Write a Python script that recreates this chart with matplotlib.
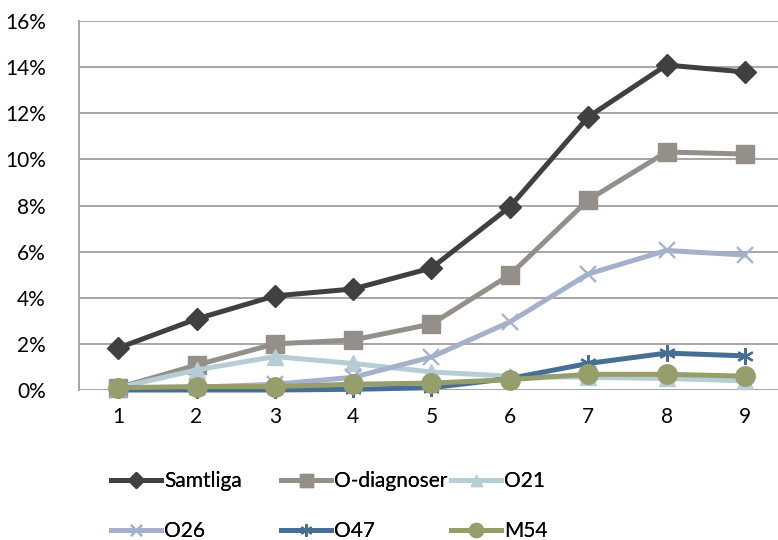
import matplotlib.pyplot as plt
from matplotlib.ticker import PercentFormatter

# data (procent per år/steg)
x = [1, 2, 3, 4, 5, 6, 7, 8, 9]
samtliga = [1.82, 3.08, 4.08, 4.38, 5.29, 7.94, 11.84, 14.09, 13.79]
o_diagnoser = [0.10, 1.08, 2.00, 2.17, 2.86, 4.99, 8.24, 10.32, 10.23]
o21 = [0.10, 0.87, 1.45, 1.15, 0.78, 0.60, 0.55, 0.50, 0.40]
o26 = [0.00, 0.12, 0.25, 0.55, 1.43, 2.95, 5.03, 6.05, 5.85]
o47 = [0.00, 0.00, 0.00, 0.03, 0.10, 0.50, 1.15, 1.60, 1.48]
m54 = [0.10, 0.15, 0.15, 0.25, 0.30, 0.45, 0.68, 0.68, 0.60]

plt.rcParams['font.family'] = ['Lato', 'DejaVu Sans']

fig = plt.figure(figsize=(7.78, 5.4), dpi=100)
ax = fig.add_axes([79 / 778, 1 - 390 / 540, 705 / 778, 369 / 540])

serier = [
    ("Samtliga", samtliga, "#404040", "D", 11, {}),
    ("O-diagnoser", o_diagnoser, "#948F89", "s", 13, {}),
    ("O21", o21, "#B7CDD5", "^", 11, {}),
    ("O26", o26, "#A5B0CB", "x", 11, {"markeredgewidth": 1.6}),
    ("O47", o47, "#466F93", (6, 2, 0), 12, {"markeredgewidth": 1.6}),
    ("M54", m54, "#979E6E", "o", 14, {}),
]

linjer = []
for namn, y, farg, mark, ms, extra in serier:
    l, = ax.plot(x, y, color=farg, lw=3.6, marker=mark, markersize=ms,
                 markerfacecolor=farg, markeredgecolor=farg, label=namn,
                 clip_on=False, **extra)
    linjer.append(l)

ax.set_xlim(0.5, 9.5)
ax.set_ylim(0, 16)
ax.set_yticks(range(0, 17, 2))
ax.set_xticks(x)
ax.yaxis.set_major_formatter(PercentFormatter(decimals=0))
ax.grid(axis='y', color='#A6A6A6', lw=1.4)
ax.set_axisbelow(True)
for s in ['top', 'right', 'bottom']:
    ax.spines[s].set_visible(False)
ax.spines['left'].set_color('#A6A6A6')
ax.spines['left'].set_linewidth(1.4)
ax.tick_params(length=0, labelsize=15, colors='black')
ax.tick_params(axis='y', pad=24)
ax.tick_params(axis='x', pad=12)

# legend: tre kolumner, två rader (radvis ordning)
kol_x = [111, 281, 451]
for i, kx in enumerate(kol_x):
    par = [linjer[i], linjer[i + 3]]
    leg = fig.legend(par, [p.get_label() for p in par], loc='upper left',
                     bbox_to_anchor=(kx / 778, 1 - 471 / 540),
                     frameon=False, fontsize=15, handlelength=2.4,
                     handletextpad=0.15, labelspacing=1.45, markerscale=0.72,
                     borderaxespad=0, borderpad=0)
    fig.add_artist(leg)

fig.savefig("out.png", dpi=100)
